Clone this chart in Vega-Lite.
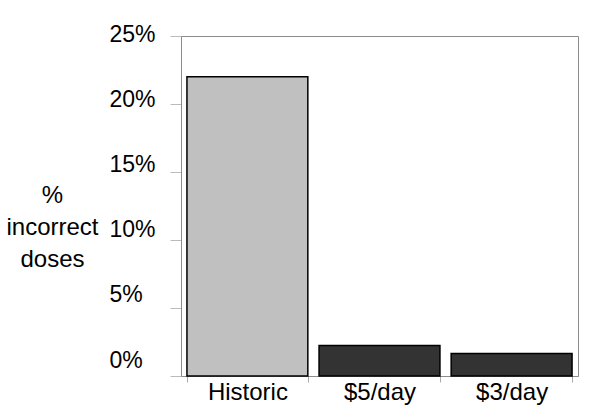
{
  "$schema": "https://vega.github.io/schema/vega-lite/v6.json",
  "width": 397,
  "height": 340,
  "autosize": {"type": "none"},
  "padding": {"left": 181, "top": 36, "right": 22, "bottom": 42},
  "background": "white",
  "config": {
    "view": {"stroke": "#8c8c8c", "strokeWidth": 1},
    "font": "Liberation Sans"
  },
  "data": {
    "values": [
      {"group": "Historic", "rate": 0.22, "kind": "historic"},
      {"group": "$5/day", "rate": 0.0225, "kind": "incentive"},
      {"group": "$3/day", "rate": 0.0165, "kind": "incentive"}
    ]
  },
  "mark": {"type": "bar", "stroke": "black", "strokeWidth": 1.5},
  "encoding": {
    "x": {
      "field": "group",
      "type": "nominal",
      "sort": null,
      "scale": {"paddingInner": 0.085, "paddingOuter": 0.045},
      "axis": {
        "title": null,
        "labelAngle": 0,
        "labelFont": "Liberation Sans",
        "labelFontSize": 24,
        "labelColor": "black",
        "labelBaseline": "top",
        "labelPadding": -2,
        "tickBand": "extent",
        "tickSize": 6,
        "tickColor": "#aaaaaa",
        "domainColor": "#8c8c8c"
      }
    },
    "y": {
      "field": "rate",
      "type": "quantitative",
      "scale": {"domain": [0, 0.25], "nice": false},
      "axis": {
        "values": [0, 0.05, 0.1, 0.15, 0.2, 0.25],
        "format": ".0%",
        "grid": false,
        "tickSize": 11,
        "tickColor": "#bbbbbb",
        "domainColor": "#8c8c8c",
        "labelFont": "Liberation Sans",
        "labelFontSize": 23,
        "labelColor": "black",
        "labelAlign": "left",
        "labelPadding": 61,
        "labelOffset": {"expr": "-1.5 - (0.25 - datum.value) * 58"},
        "title": ["%", "incorrect", "doses"],
        "titleFont": "Liberation Sans",
        "titleFontSize": 24,
        "titleFontWeight": "normal",
        "titleColor": "black",
        "titleAngle": 0,
        "titleAlign": "center",
        "titleBaseline": "top",
        "titleLineHeight": 32,
        "titleX": -129,
        "titleY": 147
      }
    },
    "color": {
      "field": "kind",
      "type": "nominal",
      "scale": {"domain": ["historic", "incentive"], "range": ["#c0c0c0", "#333333"]},
      "legend": null
    }
  }
}
